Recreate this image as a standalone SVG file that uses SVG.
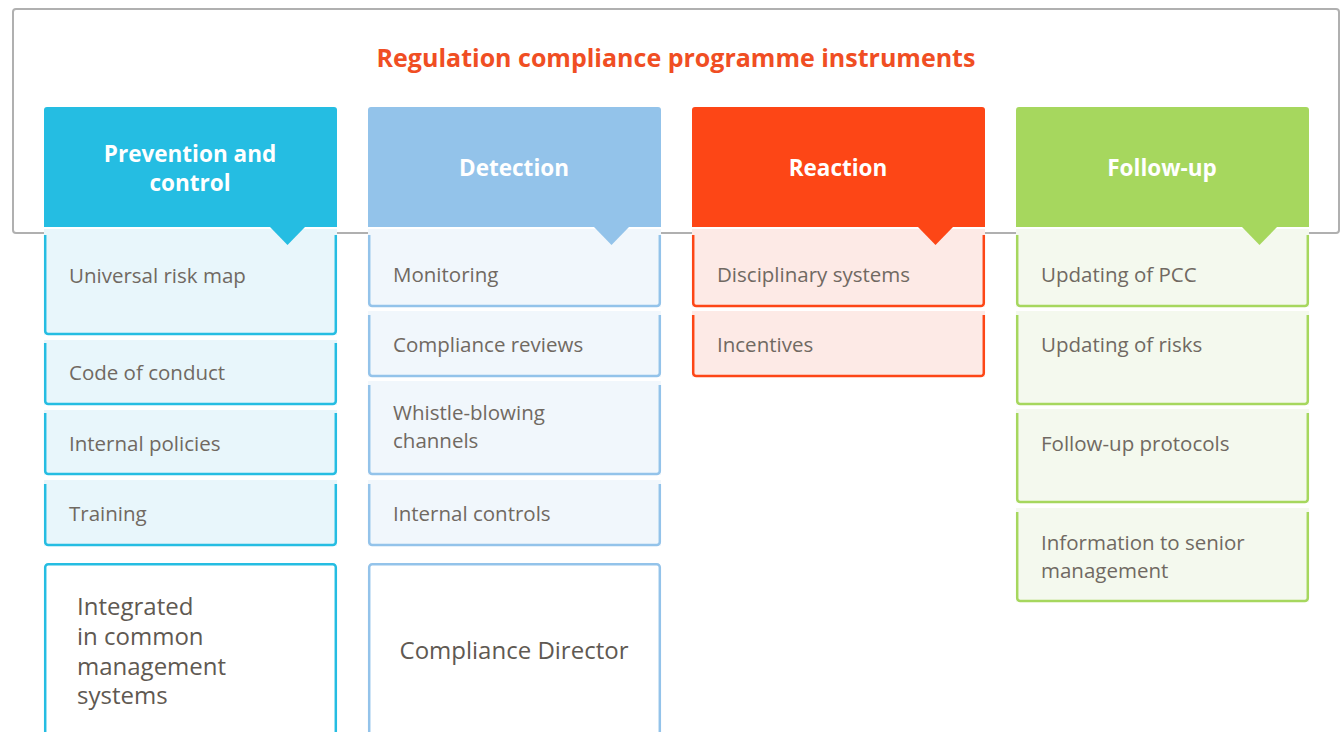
<svg xmlns="http://www.w3.org/2000/svg" width="1342" height="732" viewBox="0 0 1342 732">
<style>
.title{font-family:"Open Sans","Liberation Sans",sans-serif;font-weight:700;font-size:25px;fill:#f04e23;text-anchor:middle}
.hd{font-family:"Open Sans","Liberation Sans",sans-serif;font-weight:700;font-size:22.5px;fill:#ffffff;text-anchor:middle}
.it{font-family:"Open Sans","Liberation Sans",sans-serif;font-size:20.5px;fill:#706962}
.big{font-family:"Open Sans","Liberation Sans",sans-serif;font-size:24px;fill:#5f5952}
.b1{stroke:#25bde2}.f1{fill:#e8f6fb}
.b2{stroke:#93c3ea}.f2{fill:#f1f7fc}
.b3{stroke:#fd4616}.f3{fill:#fdeae6}
.b4{stroke:#a6d75e}.f4{fill:#f4f9ee}
.brd{fill:none;stroke-width:2.5}
</style>
<rect x="13" y="9" width="1326" height="224" rx="3" fill="none" stroke="#b0b0b0" stroke-width="2"/>
<text class="title" x="676" y="67">Regulation compliance programme instruments</text>

<g id="col1">
<g id="h1"><path d="M44,110 a3,3 0 0 1 3,-3 h287 a3,3 0 0 1 3,3 v117 H44 Z" fill="#25bde2"/>
<text class="hd" x="190" y="162">Prevention and</text><text class="hd" x="190" y="191">control</text></g>
<g id="n1a"><rect class="f1" x="44" y="229" width="293" height="106"/><path d="M270,227 L305,227 L287.5,245 Z" fill="#25bde2"/><path class="brd b1" d="M45.2,235 V331 a3,3 0 0 0 3,3 H332.8 a3,3 0 0 0 3,-3 V235"/><text class="it" x="69" y="283">Universal risk map</text></g>
<g id="n1b"><rect class="f1" x="44" y="340" width="293" height="65"/><path class="brd b1" d="M45.2,343 V401 a3,3 0 0 0 3,3 H332.8 a3,3 0 0 0 3,-3 V343"/><text class="it" x="69" y="380">Code of conduct</text></g>
<g id="n1c"><rect class="f1" x="44" y="410" width="293" height="65"/><path class="brd b1" d="M45.2,413 V471 a3,3 0 0 0 3,3 H332.8 a3,3 0 0 0 3,-3 V413"/><text class="it" x="69" y="451">Internal policies</text></g>
<g id="n1d"><rect class="f1" x="44" y="480" width="293" height="66"/><path class="brd b1" d="M45.2,484 V542 a3,3 0 0 0 3,3 H332.8 a3,3 0 0 0 3,-3 V484"/><text class="it" x="69" y="521">Training</text></g>
<g id="n1e"><rect class="brd b1" x="45.2" y="564.2" width="290.6" height="180" rx="3" fill="#ffffff"/><text class="big" x="77" y="615">Integrated</text><text class="big" x="77" y="645">in common</text><text class="big" x="77" y="675">management</text><text class="big" x="77" y="704">systems</text></g>
</g>

<g id="col2">
<g id="h2"><path d="M368,110 a3,3 0 0 1 3,-3 h287 a3,3 0 0 1 3,3 v117 H368 Z" fill="#93c3ea"/>
<text class="hd" x="514" y="176">Detection</text></g>
<g id="n2a"><rect class="f2" x="368" y="229" width="293" height="78"/><path d="M594,227 L629,227 L611.5,245 Z" fill="#93c3ea"/><path class="brd b2" d="M369.2,235 V303 a3,3 0 0 0 3,3 H656.8 a3,3 0 0 0 3,-3 V235"/><text class="it" x="393" y="282">Monitoring</text></g>
<g id="n2b"><rect class="f2" x="368" y="311" width="293" height="66"/><path class="brd b2" d="M369.2,315 V373 a3,3 0 0 0 3,3 H656.8 a3,3 0 0 0 3,-3 V315"/><text class="it" x="393" y="352">Compliance reviews</text></g>
<g id="n2c"><rect class="f2" x="368" y="381" width="293" height="94"/><path class="brd b2" d="M369.2,385 V471 a3,3 0 0 0 3,3 H656.8 a3,3 0 0 0 3,-3 V385"/><text class="it" x="393" y="420">Whistle-blowing</text><text class="it" x="393" y="448">channels</text></g>
<g id="n2d"><rect class="f2" x="368" y="480" width="293" height="66"/><path class="brd b2" d="M369.2,484 V542 a3,3 0 0 0 3,3 H656.8 a3,3 0 0 0 3,-3 V484"/><text class="it" x="393" y="521">Internal controls</text></g>
<g id="n2e"><rect class="brd b2" x="369.2" y="564.2" width="290.6" height="180" rx="3" fill="#ffffff"/><text class="big" x="514" y="659" text-anchor="middle">Compliance Director</text></g>
</g>

<g id="col3">
<g id="h3"><path d="M692,110 a3,3 0 0 1 3,-3 h287 a3,3 0 0 1 3,3 v117 H692 Z" fill="#fd4616"/>
<text class="hd" x="838" y="176">Reaction</text></g>
<g id="n3a"><rect class="f3" x="692" y="229" width="293" height="78"/><path d="M918,227 L953,227 L935.5,245 Z" fill="#fd4616"/><path class="brd b3" d="M693.2,235 V303 a3,3 0 0 0 3,3 H980.8 a3,3 0 0 0 3,-3 V235"/><text class="it" x="717" y="282">Disciplinary systems</text></g>
<g id="n3b"><rect class="f3" x="692" y="311" width="293" height="66"/><path class="brd b3" d="M693.2,315 V373 a3,3 0 0 0 3,3 H980.8 a3,3 0 0 0 3,-3 V315"/><text class="it" x="717" y="352">Incentives</text></g>
</g>

<g id="col4">
<g id="h4"><path d="M1016,110 a3,3 0 0 1 3,-3 h287 a3,3 0 0 1 3,3 v117 H1016 Z" fill="#a6d75e"/>
<text class="hd" x="1162" y="176">Follow-up</text></g>
<g id="n4a"><rect class="f4" x="1016" y="229" width="293" height="78"/><path d="M1242,227 L1277,227 L1259.5,245 Z" fill="#a6d75e"/><path class="brd b4" d="M1017.2,235 V303 a3,3 0 0 0 3,3 H1304.8 a3,3 0 0 0 3,-3 V235"/><text class="it" x="1041" y="282">Updating of PCC</text></g>
<g id="n4b"><rect class="f4" x="1016" y="311" width="293" height="94"/><path class="brd b4" d="M1017.2,315 V401 a3,3 0 0 0 3,3 H1304.8 a3,3 0 0 0 3,-3 V315"/><text class="it" x="1041" y="352">Updating of risks</text></g>
<g id="n4c"><rect class="f4" x="1016" y="409" width="293" height="94"/><path class="brd b4" d="M1017.2,413 V499 a3,3 0 0 0 3,3 H1304.8 a3,3 0 0 0 3,-3 V413"/><text class="it" x="1041" y="451">Follow-up protocols</text></g>
<g id="n4d"><rect class="f4" x="1016" y="508" width="293" height="94"/><path class="brd b4" d="M1017.2,512 V598 a3,3 0 0 0 3,3 H1304.8 a3,3 0 0 0 3,-3 V512"/><text class="it" x="1041" y="550">Information to senior</text><text class="it" x="1041" y="578">management</text></g>
</g>
</svg>
